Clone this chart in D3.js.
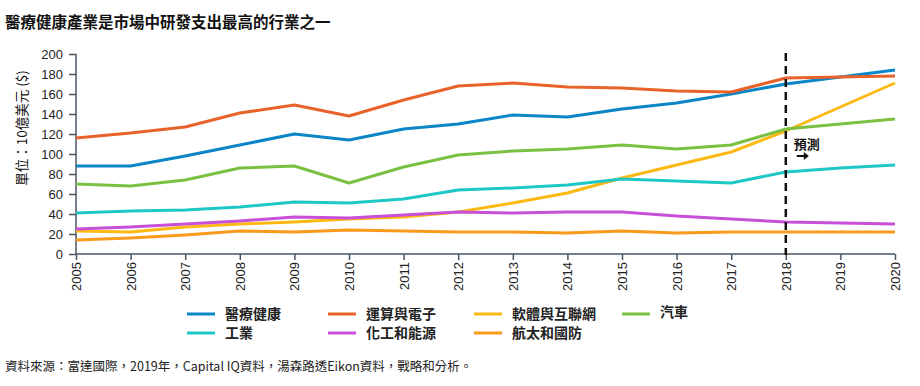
<!DOCTYPE html>
<html lang="zh-Hant">
<head>
<meta charset="utf-8">
<script src="https://cdn.jsdelivr.net/npm/d3@7"></script>
<style>
  body { margin: 0; background: #fff; }
  svg text { font-family: "Noto Sans CJK TC", "Liberation Sans", sans-serif; }
  .tick text { font-family: "Liberation Sans", Arial, sans-serif; font-size: 13px; fill: #222; }
  .axis path, .axis line { stroke: #4a5561; stroke-width: 1.5; }
</style>
</head>
<body>
<script>
  // data (billions USD)
  var years = [2005, 2006, 2007, 2008, 2009, 2010, 2011, 2012, 2013, 2014, 2015, 2016, 2017, 2018, 2019, 2020];
  var yTicks = [0, 20, 40, 60, 80, 100, 120, 140, 160, 180, 200];
  var seriesNames = ["醫療健康", "運算與電子", "軟體與互聯網", "汽車", "工業", "化工和能源", "航太和國防"];
  var seriesColors = ["#0a86c6", "#e8632b", "#fdb913", "#7ac143", "#1ec6c6", "#c84fd8", "#f99a1c"];

  var healthcare = [88, 88, 98, 109, 120, 114, 125, 130, 139, 137, 145, 151, 160, 170, 177, 184];
  var computing  = [116, 121, 127, 141, 149, 138, 154, 168, 171, 167, 166, 163, 162, 176, 177, 178];
  var software   = [23, 22, 27, 30, 32, 35, 37, 42, 51, 61, 76, 89, 102, 123, 147, 171];
  var autos      = [70, 68, 74, 86, 88, 71, 87, 99, 103, 105, 109, 105, 109, 125, 130, 135];
  var industrial = [41, 43, 44, 47, 52, 51, 55, 64, 66, 69, 75, 73, 71, 82, 86, 89];
  var chemicals  = [25, 27, 30, 33, 37, 36, 39, 42, 41, 42, 42, 38, 35, 32, 31, 30];
  var aerospace  = [14, 16, 19, 23, 22, 24, 23, 22, 22, 21, 23, 21, 22, 22, 22, 22];

  var seriesValues = [healthcare, computing, software, autos, industrial, chemicals, aerospace];
  var forecastYear = 2018;

  var w = 920, h = 386;
  var svg = d3.select("body").append("svg")
    .attr("width", w)
    .attr("height", h);

  var x = d3.scaleLinear().domain([2005, 2020]).range([76, 895]);
  var y = d3.scaleLinear().domain([0, 200]).range([254, 54]);

  svg.append("text")
    .attr("x", 5)
    .attr("y", 28)
    .style("font-size", "15.5px")
    .style("font-weight", "bold")
    .style("fill", "#111")
    .text("醫療健康產業是市場中研發支出最高的行業之一");

  // axes
  var yAxis = d3.axisLeft(y).tickValues(yTicks).tickSize(7).tickPadding(6);
  svg.append("g")
    .attr("class", "axis")
    .attr("transform", "translate(76,0)")
    .call(yAxis)
    .call(g => g.select(".domain").attr("d", "M0,54V254"));

  var xAxis = d3.axisBottom(x).tickValues(years).tickFormat(d3.format("d")).tickSize(6);
  var gx = svg.append("g")
    .attr("class", "axis")
    .attr("transform", "translate(0,254)")
    .call(xAxis);
  gx.select(".domain").attr("d", "M76,0H895");
  gx.selectAll(".tick text")
    .attr("transform", "rotate(-90)")
    .attr("text-anchor", "end")
    .attr("x", -8)
    .attr("y", 0)
    .attr("dy", "0.35em");

  svg.append("text")
    .attr("transform", "translate(27,128) rotate(-90)")
    .attr("text-anchor", "middle")
    .style("font-size", "13.5px")
    .style("fill", "#111")
    .text("單位：10億美元 ($)");

  // lines
  var line = d3.line()
    .x((d, i) => x(years[i]))
    .y(d => y(d));

  svg.append("g").selectAll("path")
    .data(seriesValues)
    .enter()
    .append("path")
    .attr("d", d => line(d))
    .attr("fill", "none")
    .attr("stroke", (d, i) => seriesColors[i])
    .attr("stroke-width", 3)
    .attr("stroke-linejoin", "round");

  // forecast marker
  svg.append("line")
    .attr("x1", x(forecastYear))
    .attr("x2", x(forecastYear))
    .attr("y1", y(200) - 1)
    .attr("y2", y(0) + 1)
    .attr("stroke", "#111")
    .attr("stroke-width", 2.5)
    .attr("stroke-dasharray", "8,5");

  svg.append("text")
    .attr("x", x(forecastYear) + 8)
    .attr("y", 149)
    .style("font-size", "13px")
    .style("font-weight", "bold")
    .style("fill", "#111")
    .text("預測");

  svg.append("path")
    .attr("d", "M" + (x(forecastYear) + 11) + ",156h10")
    .attr("stroke", "#111")
    .attr("stroke-width", 2);
  svg.append("path")
    .attr("d", "M" + (x(forecastYear) + 18) + ",152l5,4l-5,4z")
    .attr("fill", "#111");

  // legend
  var legendX = [187, 328, 474, 622];
  var legendY = [314, 333];
  var legend = svg.append("g").attr("id", "legend");
  seriesNames.forEach(function(name, i) {
    var lx = legendX[i < 4 ? i : i - 4];
    var ly = legendY[i < 4 ? 0 : 1];
    legend.append("line")
      .attr("x1", lx).attr("x2", lx + 28)
      .attr("y1", ly).attr("y2", ly)
      .attr("stroke", seriesColors[i])
      .attr("stroke-width", 3);
    legend.append("text")
      .attr("x", lx + 38)
      .attr("y", ly + (i === 3 ? -2 : 0))
      .attr("dy", "0.38em")
      .style("font-size", "14px")
      .style("font-weight", "bold")
      .style("fill", "#222")
      .text(name);
  });

  svg.append("text")
    .attr("x", 5)
    .attr("y", 371)
    .style("font-size", "12.5px")
    .style("fill", "#222")
    .text("資料來源：富達國際，2019年，Capital IQ資料，湯森路透Eikon資料，戰略和分析。");
</script>
</body>
</html>
